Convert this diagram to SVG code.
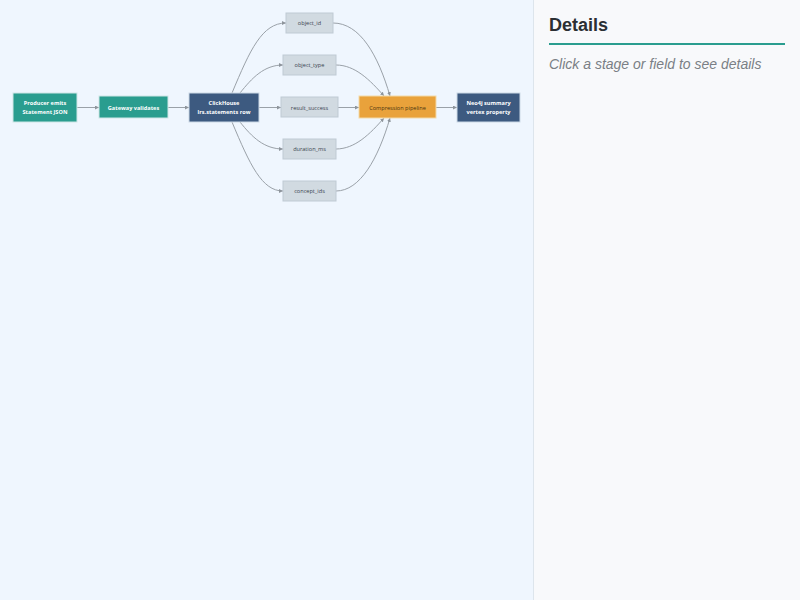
<svg xmlns="http://www.w3.org/2000/svg" width="800" height="600" viewBox="0 0 800 600">
<defs>
<style>
.teal{fill:#2a9d8f;stroke:#cfe6e6;stroke-width:1}
.navy{fill:#3d5a80;stroke:#cdd9e6;stroke-width:1}
.orange{fill:#e9a23b;stroke:#f3d9a8;stroke-width:1}
.field{fill:#d1dae1;stroke:#bfcad3;stroke-width:1}
.lt{font-family:"Open Sans","Liberation Sans",sans-serif;font-size:5.6px;font-weight:bold;fill:#ffffff;text-anchor:middle}
.ft{font-family:"Open Sans","Liberation Sans",sans-serif;font-size:5.6px;fill:#3a4450;text-anchor:middle}
.ot{font-family:"Open Sans","Liberation Sans",sans-serif;font-size:5.6px;fill:#4a3510;text-anchor:middle}
.edge{fill:none;stroke:#9aa1a8;stroke-width:1}
</style>
<marker id="arr" viewBox="0 0 6 6" refX="6" refY="3" markerWidth="4" markerHeight="4" orient="auto" markerUnits="userSpaceOnUse">
<path d="M0,0 L6,3 L0,6 Z" fill="#8e959c"/>
</marker>
</defs>
<rect x="0" y="0" width="800" height="600" fill="#eff6fe"/>
<g id="connectors">
<path class="edge" marker-end="url(#arr)" d="M77,107.5 L99,107.5"/>
<path class="edge" marker-end="url(#arr)" d="M168,107.5 L189,107.5"/>
<path class="edge" marker-end="url(#arr)" d="M259,107.5 L281,107.5"/>
<path class="edge" marker-end="url(#arr)" d="M338,107.5 L359,107.5"/>
<path class="edge" marker-end="url(#arr)" d="M436,107.5 L457,107.5"/>
<path class="edge" marker-end="url(#arr)" d="M232,93 C250,50 262,23 286,23"/>
<path class="edge" marker-end="url(#arr)" d="M240,93 C252,78 264,65 283,65"/>
<path class="edge" marker-end="url(#arr)" d="M232,122 C250,165 262,191 283,191"/>
<path class="edge" marker-end="url(#arr)" d="M240,122 C252,137 264,149 283,149"/>
<path class="edge" marker-end="url(#arr)" d="M333,23 C360,23 378,55 390,96"/>
<path class="edge" marker-end="url(#arr)" d="M336,65 C355,65 370,80 384,96"/>
<path class="edge" marker-end="url(#arr)" d="M336,149 C355,149 370,134 384,118"/>
<path class="edge" marker-end="url(#arr)" d="M336,191 C360,191 378,159 390,118"/>
</g>
<g id="producer">
<rect class="teal" x="13" y="93" width="64" height="29"/>
<text class="lt" x="45" y="105">Producer emits</text>
<text class="lt" x="45" y="114">Statement JSON</text>
</g>
<g id="gateway">
<rect class="teal" x="99" y="96" width="69" height="22"/>
<text class="lt" x="133.5" y="109.5">Gateway validates</text>
</g>
<g id="clickhouse">
<rect class="navy" x="189" y="93" width="70" height="29"/>
<text class="lt" x="224" y="105">ClickHouse</text>
<text class="lt" x="224" y="114">lrs.statements row</text>
</g>
<g id="object_id">
<rect class="field" x="286" y="13" width="47" height="20"/>
<text class="ft" x="309.5" y="25">object_id</text>
</g>
<g id="object_type">
<rect class="field" x="283" y="55" width="53" height="20"/>
<text class="ft" x="309.5" y="67">object_type</text>
</g>
<g id="result_success">
<rect class="field" x="281" y="97" width="57" height="20"/>
<text class="ft" x="309.5" y="109.5">result_success</text>
</g>
<g id="duration_ms">
<rect class="field" x="283" y="139" width="53" height="20"/>
<text class="ft" x="309.5" y="151">duration_ms</text>
</g>
<g id="concept_ids">
<rect class="field" x="283" y="181" width="53" height="20"/>
<text class="ft" x="309.5" y="193">concept_ids</text>
</g>
<g id="compression">
<rect class="orange" x="359" y="96" width="77" height="22"/>
<text class="ot" x="397.5" y="109.5">Compression pipeline</text>
</g>
<g id="neo4j">
<rect class="navy" x="457" y="93" width="63" height="29"/>
<text class="lt" x="488.5" y="105">Neo4j summary</text>
<text class="lt" x="488.5" y="114">vertex property</text>
</g>
<g id="details-panel">
<rect x="533" y="0" width="267" height="600" fill="#f8f9fb"/>
<line x1="533.5" y1="0" x2="533.5" y2="600" stroke="#dde5ec" stroke-width="1"/>
<text x="549" y="31" font-family="'Liberation Sans',Arial,sans-serif" font-size="18" font-weight="bold" fill="#2b2f33">Details</text>
<line x1="549" y1="44" x2="785" y2="44" stroke="#2a9d8f" stroke-width="2"/>
<text x="549" y="69" font-family="'Liberation Sans',Arial,sans-serif" font-size="14" font-style="italic" fill="#7a7f85">Click a stage or field to see details</text>
</g>
</svg>
